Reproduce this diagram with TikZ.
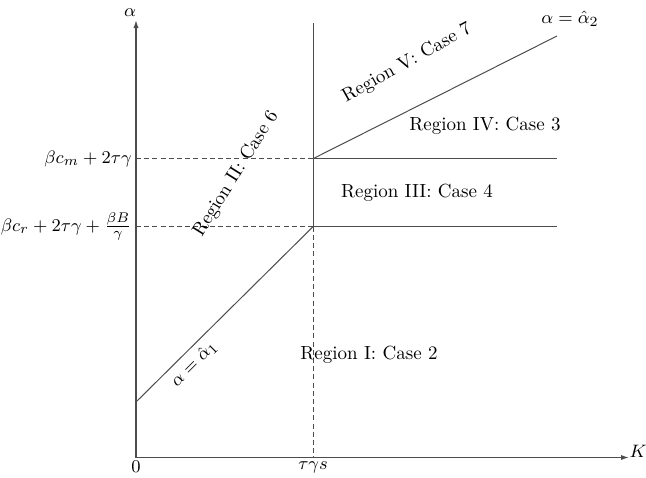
\documentclass[tikz,border=0pt]{standalone}
\usetikzlibrary{arrows.meta}
\begin{document}
\begin{tikzpicture}[x=0.5pt,y=-0.5pt,
  axis/.style={line width=0.65pt,draw=black!70,-{Latex[length=4pt,width=2.6pt]}},
  solidline/.style={line width=0.5pt,draw=black!70},
  dashline/.style={line width=0.5pt,draw=black!70,dash pattern=on 2.5pt off 1.6pt},
  lab/.style={inner sep=1pt,font=\fontsize{9.5}{11}\selectfont}]
\useasboundingbox (0,0) rectangle (646,477);
% coordinates
\coordinate (O) at (136,457.5);
\coordinate (Ytop) at (136,20);
\coordinate (Xend) at (629,457.5);
\coordinate (A) at (136,402);
\coordinate (P1) at (313,226.7);
\coordinate (P2) at (313,158.7);
\coordinate (V) at (313,23);
\coordinate (D) at (313,457.5);
\coordinate (B) at (557,36);
\coordinate (L1) at (136,158.7);
\coordinate (L2) at (136,226.7);
\coordinate (R1) at (557,158.7);
\coordinate (R2) at (557,226.7);
% axes
\draw[axis] (O) -- (Ytop);
\draw[axis] (O) -- (Xend);
% lines
\draw[dashline] (L1) -- (P2);
\draw[dashline] (L2) -- (P1);
\draw[dashline] (P1) -- (D);
\draw[solidline] (V) -- (P1);
\draw[solidline] (P2) -- (R1);
\draw[solidline] (P1) -- (R2);
\draw[solidline] (A) -- (P1);
\draw[solidline] (P2) -- (B);
% labels
\node[lab] (alab) at (130,13) {$\alpha$};
\node[lab] (klab) at (638,451) {$K$};
\node[lab] (zlab) at (136,467) {$0$};
\node[lab] (tlab) at (313,467) {$\tau\gamma s$};
\node[lab,anchor=east] (cm) at (134,158.7) {$\beta c_m+2\tau\gamma$};
\node[lab,anchor=east] (cr) at (134,226.7) {$\beta c_r+2\tau\gamma+\frac{\beta B}{\gamma}$};
\node[lab] (a2) at (570,19) {$\alpha=\hat{\alpha}_2$};
\node[lab,rotate=45] (a1) at (194,364) {$\alpha=\hat{\alpha}_1$};
\node[lab,rotate=29] (r5) at (407,63) {Region V: Case 7};
\node[lab] (r4) at (485,126) {Region IV: Case 3};
\node[lab] (r3) at (417,193) {Region III: Case 4};
\node[lab] (r1) at (369,355) {Region I: Case 2};
\node[lab,rotate=58] (r2) at (236,174) {Region II: Case 6};
\end{tikzpicture}
\end{document}
